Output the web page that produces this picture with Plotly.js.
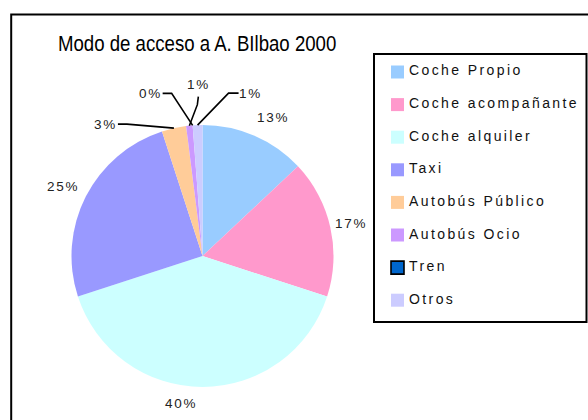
<!DOCTYPE html>
<html>
<head>
<meta charset="utf-8">
<script src="https://cdn.plot.ly/plotly-3.0.1.min.js"></script>
<style>
  html, body { margin: 0; padding: 0; background: #fff; }
  #chart { width: 588px; height: 420px; }
  .annotation-text { letter-spacing: 2.4px; }
  .annotation-text[data-unformatted$="%"] { letter-spacing: 1.8px; }
  .gtitle { transform: scaleX(0.81); transform-origin: 58px 42px; }
</style>
</head>
<body>
<div id="chart"></div>
<script>
// ---- data ----
const chartTitle = 'Modo de acceso a A. BIlbao 2000';
const categories = ['Coche Propio', 'Coche acompañante', 'Coche alquiler', 'Taxi',
                    'Autobús Público', 'Autobús Ocio', 'Tren', 'Otros'];
const shares = [13, 17, 40, 25, 3, 0.8, 0, 1.2];
const sliceColors = ['#99CCFF', '#FF99CC', '#CCFFFF', '#9999FF',
                     '#FFCC99', '#CC99FF', '#0066CC', '#CCCCFF'];

// ---- layout / styling (pixels) ----
const W = 588, H = 420;
const pie = { cx: 202.5, cy: 256, r: 131 };
// label placement relative to each slice's rim midpoint: [dx, dy, leader side]
const labelPlacement = [[18, -18, null], [21, -4, null], [-22, 16, null], [-23, -10, null],
                        [-68, -4, 'r'], [9, -41, 'b'], [-42, -32, 'r'], [53, -32, 'l']];
const legendBox = { x0: 374, y0: 54, x1: 586.5, y1: 322 };
const legendItem = { sx0: 391, sx1: 404, size: 13, y0: 72, step: 32.6, tx: 407 };

const px = x => x / W;
const py = y => 1 - y / H;

const total = shares.reduce((a, b) => a + b, 0);
const pctText = shares.map(v => Math.round(v / total * 100) + '%');

const annotations = [];
const shapes = [];

// outer chart frame
shapes.push({ type: 'rect', xref: 'paper', yref: 'paper',
  x0: px(11.2), x1: px(640), y0: py(14.5), y1: py(470),
  line: { color: '#000', width: 2 }, fillcolor: 'rgba(0,0,0,0)' });

// data labels with leader lines, computed from slice angles
let cum = 0;
shares.forEach((v, i) => {
  const mid = (cum + v / 2) / total * 2 * Math.PI;
  cum += v;
  const rx = pie.cx + pie.r * Math.sin(mid);
  const ry = pie.cy - pie.r * Math.cos(mid);
  const [dx, dy, side] = labelPlacement[i];
  const lx = rx + dx, ly = ry + dy;
  annotations.push({ xref: 'paper', yref: 'paper', x: px(lx), y: py(ly),
    xanchor: 'center', yanchor: 'middle', showarrow: false, text: pctText[i],
    font: { family: 'Liberation Sans, Arial, sans-serif', size: 13.5, color: '#222' } });
  if (side) {
    const hw = pctText[i].length * 5;
    let sx, sy, ex, ey;
    if (side === 'r') { sx = lx + hw + 2; sy = ly; ex = sx + 9; ey = ly; }
    else if (side === 'l') { sx = lx - hw - 2; sy = ly; ex = sx - 10; ey = ly; }
    else { sx = lx; sy = ly + 12; ex = lx - 1; ey = ly + 20; }
    shapes.push({ type: 'path', xref: 'paper', yref: 'paper',
      path: `M ${px(sx)} ${py(sy)} L ${px(ex)} ${py(ey)} L ${px(rx)} ${py(ry)}`,
      line: { color: '#000', width: 1.6 } });
  }
});

// legend box and entries
shapes.push({ type: 'rect', xref: 'paper', yref: 'paper',
  x0: px(legendBox.x0), x1: px(legendBox.x1), y0: py(legendBox.y0), y1: py(legendBox.y1),
  line: { color: '#000', width: 2 }, fillcolor: '#fff' });
categories.forEach((c, i) => {
  const yc = legendItem.y0 + i * legendItem.step;
  const outlined = c === 'Tren';
  shapes.push({ type: 'rect', xref: 'paper', yref: 'paper',
    x0: px(legendItem.sx0), x1: px(legendItem.sx1),
    y0: py(yc - legendItem.size / 2), y1: py(yc + legendItem.size / 2),
    fillcolor: sliceColors[i],
    line: { color: outlined ? '#000' : sliceColors[i], width: outlined ? 1.6 : 0 } });
  annotations.push({ xref: 'paper', yref: 'paper', x: px(legendItem.tx), y: py(yc - 1.5),
    xanchor: 'left', yanchor: 'middle', showarrow: false, text: c,
    font: { family: 'Liberation Sans, Arial, sans-serif', size: 14, color: '#111' } });
});

const trace = {
  type: 'pie',
  labels: categories,
  values: shares,
  marker: { colors: sliceColors, line: { width: 0 } },
  sort: false,
  direction: 'clockwise',
  rotation: 0,
  textinfo: 'none',
  hoverinfo: 'label+percent',
  showlegend: false,
  domain: { x: [px(pie.cx - pie.r), px(pie.cx + pie.r)], y: [py(pie.cy + pie.r), py(pie.cy - pie.r)] }
};

const layout = {
  width: W, height: H,
  margin: { l: 0, r: 0, t: 0, b: 0 },
  paper_bgcolor: '#fff',
  showlegend: false,
  title: { text: chartTitle, xref: 'paper', yref: 'paper', x: px(58), xanchor: 'left',
           y: py(42.5), yanchor: 'middle',
           font: { family: 'Liberation Sans, Arial, sans-serif', size: 23, color: '#000' } },
  shapes: shapes,
  annotations: annotations
};

Plotly.newPlot('chart', [trace], layout, { staticPlot: true });
</script>
</body>
</html>
